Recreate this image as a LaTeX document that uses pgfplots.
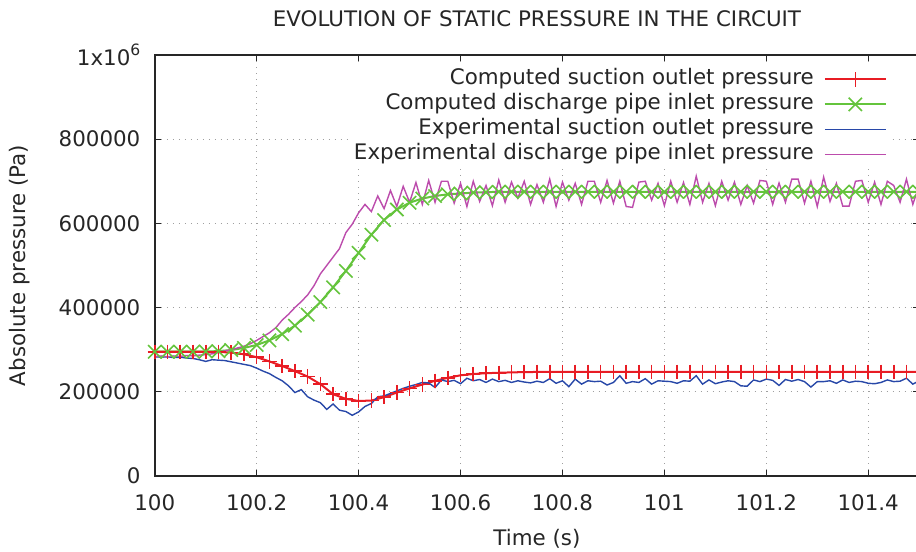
\documentclass[border=0pt]{standalone}
\usepackage{fontspec}
\setmainfont{DejaVu Sans}
\usepackage{pgfplots}
\usepackage{pgfplotstable}
\pgfplotsset{compat=1.18}
\definecolor{cred}{RGB}{232,28,36}
\definecolor{cgreen}{RGB}{100,196,60}
\definecolor{cblue}{RGB}{40,72,168}
\definecolor{cpurple}{RGB}{188,76,172}

\pgfplotstableread{
t r g
100.000 295000 295000
100.025 295000 295000
100.050 295000 295000
100.075 295000 295000
100.100 295000 295500
100.125 294500 296500
100.150 293000 299000
100.175 289000 304000
100.200 282000 311000
100.225 272000 322000
100.250 261000 337000
100.275 249000 357000
100.300 236000 383000
100.325 218000 413000
100.350 194000 448000
100.375 183000 487000
100.400 178000 530000
100.425 179000 573000
100.450 187000 608000
100.475 198000 633000
100.500 208000 649000
100.525 217000 659000
100.550 226000 665000
100.575 233000 669000
100.600 239000 671000
100.625 242000 673000
100.650 244000 674000
100.675 245000 675000
100.700 246000 675000
100.725 246500 675000
100.750 247000 675000
100.775 247000 675000
100.800 247000 675000
100.825 247000 675000
100.850 247000 675000
100.875 247000 675000
100.900 247000 675000
100.925 247000 675000
100.950 247000 675000
100.975 247000 675000
101.000 247000 675000
101.025 247000 675000
101.050 247000 675000
101.075 247000 675000
101.100 247000 675000
101.125 247000 675000
101.150 247000 675000
101.175 247000 675000
101.200 247000 675000
101.225 247000 675000
101.250 247000 675000
101.275 247000 675000
101.300 247000 675000
101.325 247000 675000
101.350 247000 675000
101.375 247000 675000
101.400 247000 675000
101.425 247000 675000
101.450 247000 675000
101.475 247000 675000
101.500 247000 675000
}\compdata

\pgfplotstableread{
t s d
100.0000 283000 284000
100.0125 282000 285000
100.0250 283000 283000
100.0375 281000 285000
100.0500 282000 284000
100.0625 280000 286000
100.0750 279000 285000
100.0875 276000 287000
100.1000 272000 288000
100.1125 276000 290000
100.1250 275000 293000
100.1375 274000 297000
100.1500 271000 300000
100.1625 268000 304000
100.1750 265000 308000
100.1875 262000 314000
100.2000 256000 322000
100.2125 249000 331000
100.2250 243000 340000
100.2375 234000 352000
100.2500 226000 370000
100.2625 214000 384000
100.2750 198000 400000
100.2875 205000 414000
100.3000 188000 430000
100.3125 180000 452000
100.3250 174000 480000
100.3375 158000 500000
100.3500 171000 520000
100.3625 156000 540000
100.3750 153000 578000
100.3875 144000 598000
100.4000 152000 625000
100.4125 165000 645000
100.4250 172000 628000
100.4375 188000 665000
100.4500 190000 635000
100.4625 196000 678000
100.4750 202000 640000
100.4875 208000 688000
100.5000 213000 650000
100.5125 217000 697000
100.5250 222000 645000
100.5375 221000 702000
100.5500 210000 650000
100.5625 228000 700000
100.5750 224000 700000
100.5875 227000 648000
100.6000 219000 695000
100.6125 232000 640000
100.6250 226000 700000
100.6375 229000 652000
100.6500 222000 690000
100.6625 230000 642000
100.6750 224000 703000
100.6875 227000 650000
100.7000 222000 698000
100.7125 226000 660000
100.7250 223000 700000
100.7375 221000 645000
100.7500 225000 692000
100.7625 222000 650000
100.7750 231000 705000
100.7875 220000 640000
100.8000 226000 698000
100.8125 212000 655000
100.8250 230000 695000
100.8375 218000 645000
100.8500 226000 700000
100.8625 224000 700000
100.8750 225000 650000
100.8875 216000 702000
100.9000 222000 648000
100.9125 238000 700000
100.9250 220000 640000
100.9375 224000 638000
100.9500 222000 698000
100.9625 231000 700000
100.9750 218000 655000
100.9875 226000 695000
101.0000 225000 642000
101.0125 224000 700000
101.0250 220000 650000
101.0375 226000 697000
101.0500 225000 645000
101.0625 238000 712000
101.0750 218000 650000
101.0875 228000 695000
101.1000 219000 642000
101.1125 223000 700000
101.1250 226000 655000
101.1375 224000 698000
101.1500 214000 645000
101.1625 213000 690000
101.1750 228000 648000
101.1875 224000 702000
101.2000 230000 700000
101.2125 227000 645000
101.2250 215000 696000
101.2375 229000 650000
101.2500 225000 705000
101.2625 229000 705000
101.2750 224000 648000
101.2875 211000 700000
101.3000 224000 640000
101.3125 224000 710000
101.3250 226000 652000
101.3375 220000 695000
101.3500 228000 641000
101.3625 222000 641000
101.3750 225000 700000
101.3875 224000 702000
101.4000 220000 650000
101.4125 219000 698000
101.4250 222000 645000
101.4375 228000 700000
101.4500 224000 690000
101.4625 225000 650000
101.4750 232000 705000
101.4875 218000 645000
101.5000 226000 690000
}\expdata

\begin{document}
\begin{tikzpicture}[font=\fontsize{10.7}{12}\selectfont]
\begin{axis}[name=ax, scale only axis, width=382.3pt, height=210.5pt,
  xmin=100, xmax=101.5, ymin=0, ymax=1000000,
  xtick={100,100.2,100.4,100.6,100.8,101,101.2,101.4},
  xticklabels={100,100.2,100.4,100.6,100.8,101,101.2,101.4},
  ytick={0,200000,400000,600000,800000,1000000},
  yticklabels={0,200000,400000,600000,800000,{1x10\raisebox{0.8ex}{\fontsize{7.8}{9}\selectfont 6}}},
  scaled ticks=false,
  minor tick num=0,
  tick align=inside, major tick length=3pt,
  tick style={black!85, line width=0.6pt},
  axis line style={black!85, line width=1pt},
  grid=major,
  grid style={gray!75, line width=0.6pt, dash pattern=on 0.6pt off 2.4pt},
  xticklabel style={anchor=center, yshift=-13.5pt, text=black!85},
  yticklabel style={anchor=east, inner sep=0pt, xshift=-7pt, text=black!85},
  title={EVOLUTION OF STATIC PRESSURE IN THE CIRCUIT},
  title style={at={(axis description cs:0.5,1.0879)}, anchor=center, yshift=-6.5pt, text=black!85},
  xlabel={Time (s)},
  xlabel style={at={(axis description cs:0.5,-0.1496)}, anchor=center, text=black!85},
  ylabel={Absolute pressure (Pa)},
  ylabel style={at={(axis description cs:-0.1766,0.5)}, anchor=center, text=black!85},
  legend plot pos=right,
  legend cell align=right,
  legend image code/.code={\draw[mark repeat=2,mark phase=2,#1] plot coordinates {(0pt,0pt) (15.25pt,0pt) (30.5pt,0pt)};},
  legend style={at={(axis description cs:1,1)}, anchor=north east, xshift=-15pt, yshift=-4.75pt,
    draw=none, fill=white, inner sep=1pt, row sep=0pt, column sep=4pt,
    nodes={inner sep=1pt, text height=7.8pt, text depth=2.7pt, text=black!85}},
]
\addplot[cred, line width=1pt, mark=+, mark size=3.6pt, mark options={line width=0.8pt}] table[x=t, y=r] {\compdata};
\addlegendentry{Computed suction outlet pressure}
\addplot[cgreen, line width=1pt, mark=x, mark size=4.7pt, mark options={line width=0.8pt}] table[x=t, y=g] {\compdata};
\addlegendentry{Computed discharge pipe inlet pressure}
\addplot[cblue, line width=0.7pt] table[x=t, y=s] {\expdata};
\addlegendentry{Experimental suction outlet pressure}
\addplot[cpurple, line width=0.7pt] table[x=t, y=d] {\expdata};
\addlegendentry{Experimental discharge pipe inlet pressure}
\end{axis}
\pgfresetboundingbox
\path ([xshift=-77.4pt,yshift=-38pt]ax.south west) rectangle ([xshift=-1.6pt,yshift=27.5pt]ax.north east);
\end{tikzpicture}
\end{document}
